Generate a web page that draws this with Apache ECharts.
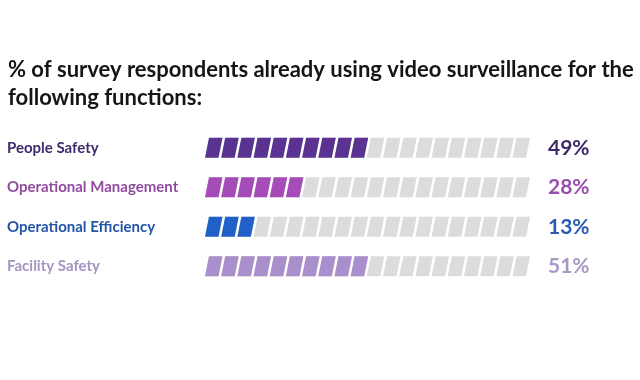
<!DOCTYPE html>
<html><head><meta charset="utf-8">
<script src="https://cdn.jsdelivr.net/npm/echarts@6/dist/echarts.min.js"></script>
<style>html,body{margin:0;padding:0;background:#fff}#c{width:640px;height:380px}</style>
</head><body><div id="c"></div>
<script>
const titleText = '% of survey respondents already using video surveillance for the\nfollowing functions:';
const categories = ['People Safety', 'Operational Management', 'Operational Efficiency', 'Facility Safety'];
const values = [49, 28, 13, 51];
const barColors = ['#5a3392', '#a64cb9', '#2060c8', '#a98fcb'];
const textColors = ['#40296e', '#914b9f', '#2454a8', '#a594c2'];
const pctColors = ['#3e2a6b', '#9a4fae', '#2a5bb0', '#a898c4'];
const total = 100;
const step = 5;
const segments = total / step;

const para = 'path://M4,0 L17.5,0 L13.5,20 L0,20 Z';
const chart = echarts.init(document.getElementById('c'));
chart.setOption({
  backgroundColor: '#fff',
  animation: false,
  title: {
    text: titleText, left: 8, top: 56, padding: 0,
    textStyle: {fontFamily: 'Lato', fontWeight: 'bold', fontSize: 22, color: '#151515', lineHeight: 28}
  },
  grid: {left: 205, right: 110, top: 128, bottom: 94},
  xAxis: {type: 'value', min: 0, max: total, show: false},
  yAxis: {
    type: 'category', data: categories, inverse: true,
    axisLine: {show: false}, axisTick: {show: false},
    axisLabel: {
      align: 'left', margin: 198,
      fontFamily: 'Lato', fontWeight: 'bold', fontSize: 15,
      color: (v, i) => textColors[i]
    }
  },
  series: [
    {
      type: 'pictorialBar', symbol: para, symbolSize: [17.5, 20],
      symbolPosition: 'start', symbolRepeat: 'fixed', symbolMargin: -0.3,
      barGap: '-100%', z: 1,
      itemStyle: {color: '#dcdcdc'},
      data: values.map((v, i) => ({
        value: total,
        label: {
          show: true, position: 'right', distance: 18,
          formatter: () => v + '%',
          fontFamily: 'Lato', fontWeight: 'bold', fontSize: 21, color: pctColors[i]
        }
      }))
    },
    {
      type: 'pictorialBar', symbol: para, symbolSize: [17.5, 20],
      symbolPosition: 'start', symbolRepeat: true, symbolMargin: -0.3,
      barGap: '-100%', z: 2,
      data: values.map((v, i) => ({
        value: Math.round(v / step) * step,
        itemStyle: {color: barColors[i]}
      }))
    }
  ]
});
</script></body></html>
